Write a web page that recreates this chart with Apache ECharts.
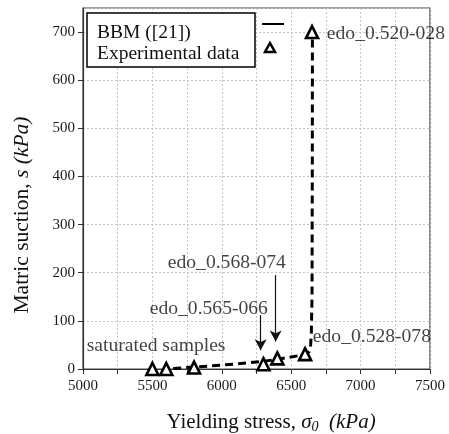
<!DOCTYPE html>
<html><head><meta charset="utf-8">
<script src="https://cdn.jsdelivr.net/npm/echarts@6/dist/echarts.min.js"></script>
<style>html,body{margin:0;padding:0;background:#fff}#c{width:449px;height:434px}</style>
</head><body><div id="c"></div>
<script>
// Experimental data (yielding stress kPa, suction kPa)
const expX = [5500, 5600, 5800, 6300, 6400, 6600, 6650];
const expY = [0, 0, 3, 10, 22, 31, 700];
// BBM model curve
const bbmX = [5650, 5800, 6000, 6200, 6300, 6400, 6500, 6600, 6630, 6640, 6645, 6650, 6652, 6653];
const bbmY = [1, 4, 8, 13, 16, 20, 25, 30, 36, 50, 75, 150, 400, 700];
// annotations
const noteText = ['edo_0.520-028', 'edo_0.568-074', 'edo_0.565-066', 'edo_0.528-078', 'saturated samples'];
const noteX = [6757, 5611, 5481, 6656, 5027];
const noteY = [697, 220, 126, 66, 48];
// arrows: [x, yStart, yEnd]
const arrowX = [6280, 6388];
const arrowY0 = [112, 195];
const arrowY1 = [39, 57];
const xTicks = [5000, 5500, 6000, 6500, 7000, 7500];

const F = 'Liberation Serif, Times New Roman, serif';
const chart = echarts.init(document.getElementById('c'));
chart.setOption({
  animation: false,
  backgroundColor: '#fff',
  grid: {left: 83, right: 19, top: 8, bottom: 65, show: true, borderColor: '#444', borderWidth: 1.2, backgroundColor: 'transparent'},
  xAxis: {
    type: 'value', min: 5000, max: 7500, interval: 250,
    axisLine: {lineStyle: {color: '#333', width: 1.2}},
    axisTick: {show: true, length: 5, lineStyle: {color: '#333'}},
    axisLabel: {color: '#1a1a1a', fontFamily: F, fontSize: 15, margin: 10,
      formatter: v => xTicks.indexOf(v) >= 0 ? String(v) : ''},
    splitLine: {show: true, lineStyle: {color: '#c4c4c4', type: [2, 2], width: 1}}
  },
  yAxis: {
    type: 'value', min: 0, max: 750, interval: 100,
    axisLine: {show: true, lineStyle: {color: '#333', width: 1.2}},
    axisTick: {show: true, length: 5, lineStyle: {color: '#333'}},
    axisLabel: {color: '#1a1a1a', fontFamily: F, fontSize: 15, margin: 8, showMaxLabel: false,
      formatter: v => v % 100 === 0 ? String(v) : ''},
    splitLine: {show: true, lineStyle: {color: '#c4c4c4', type: [2, 2], width: 1}}
  },
  series: [
    {
      type: 'line', name: 'BBM ([21])',
      data: bbmX.map((x, i) => [x, bbmY[i]]),
      showSymbol: false, symbol: 'none',
      lineStyle: {color: '#000', width: 3, type: [8, 5]},
      z: 2
    },
    {
      type: 'scatter', name: 'Experimental data',
      data: expX.map((x, i) => [x, expY[i]]),
      symbol: 'triangle', symbolSize: 12,
      itemStyle: {color: '#fff', borderColor: '#000', borderWidth: 2.6, opacity: 1},
      z: 5
    },
    {
      type: 'scatter', name: 'notes',
      data: noteText.map((t, i) => ({name: t, value: [noteX[i], noteY[i]]})),
      symbolSize: 0, silent: true,
      label: {show: true, position: 'right', distance: 0, formatter: p => p.name,
        fontFamily: F, fontSize: 19.6, color: '#111'},
      markLine: {
        silent: true, symbol: ['none', 'arrow'], symbolSize: [9, 11],
        label: {show: false},
        lineStyle: {color: '#111', width: 1.2, type: 'solid'},
        data: arrowX.map((x, i) => [{coord: [x, arrowY0[i]]}, {coord: [x, arrowY1[i]]}])
      },
      z: 6
    }
  ],
  graphic: [
    {type: 'rect', shape: {x: 87, y: 13, width: 168, height: 54},
      style: {fill: '#fff', stroke: '#000', lineWidth: 1.5}, z: 10},
    {type: 'text', x: 97, y: 33, style: {text: 'BBM ([21])', font: '19.5px ' + F, fill: '#111', textVerticalAlign: 'middle'}, z: 11},
    {type: 'text', x: 97, y: 54, style: {text: 'Experimental data', font: '19.5px ' + F, fill: '#111', textVerticalAlign: 'middle'}, z: 11},
    {type: 'line', shape: {x1: 262, y1: 24, x2: 284, y2: 24}, style: {stroke: '#000', lineWidth: 2}, z: 11},
    {type: 'polygon', shape: {points: [[270, 43], [275, 52], [265, 52]]}, style: {fill: '#fff', stroke: '#000', lineWidth: 2.5}, z: 11},
    {type: 'text', x: 271, y: 422, style: {
      text: '{a|Yielding stress, }{i|σ}{s|0}{i|  (kPa)}',
      textAlign: 'center', textVerticalAlign: 'middle',
      rich: {
        a: {fontFamily: F, fontSize: 21, fill: '#111'},
        i: {fontFamily: F, fontSize: 21, fontStyle: 'italic', fill: '#111'},
        s: {fontFamily: F, fontSize: 14, fontStyle: 'italic', fill: '#111', padding: [10, 0, 0, 0]}
      }}},
    {type: 'text', x: 22, y: 215, rotation: Math.PI / 2, style: {
      text: '{a|Matric suction, }{i|s (kPa)}',
      textAlign: 'center', textVerticalAlign: 'middle',
      rich: {
        a: {fontFamily: F, fontSize: 21.5, fill: '#111'},
        i: {fontFamily: F, fontSize: 21.5, fontStyle: 'italic', fill: '#111'}
      }}}
  ]
});
</script></body></html>
